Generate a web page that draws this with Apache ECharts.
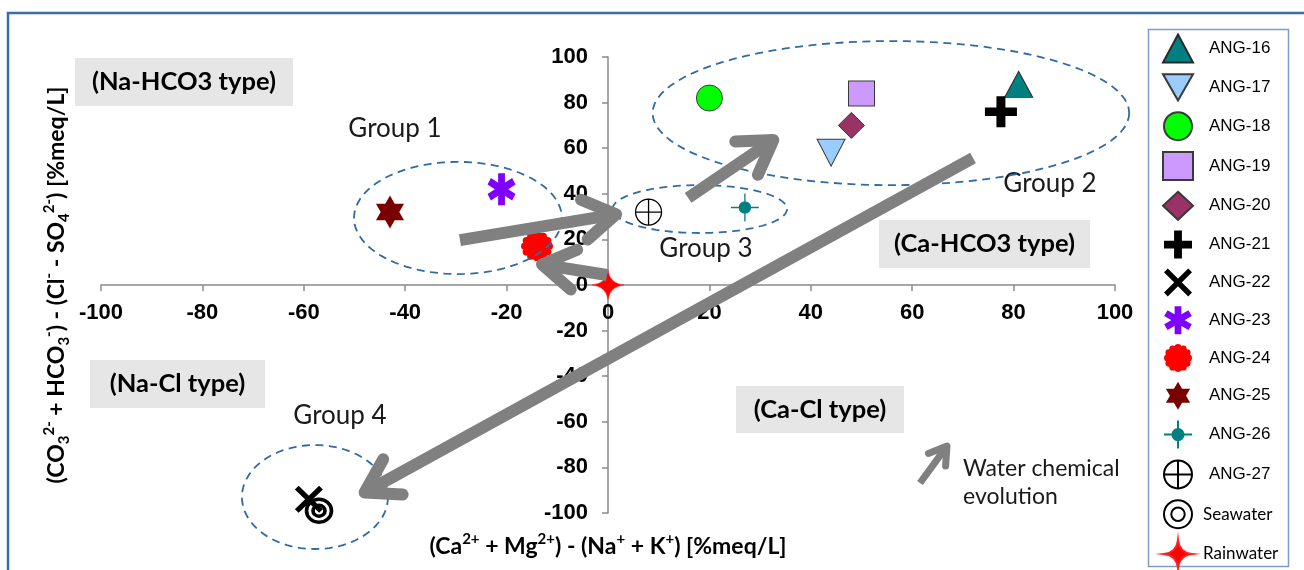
<!DOCTYPE html>
<html>
<head>
<meta charset="utf-8">
<script src="https://cdn.jsdelivr.net/npm/echarts@6/dist/echarts.min.js"></script>
<style>
  html, body { margin: 0; padding: 0; background: #ffffff; }
  #chart { width: 1304px; height: 570px; }
</style>
</head>
<body>
<div id="chart"></div>
<script>
// Chadha-type plot: (Ca + Mg) - (Na + K) versus (CO3 + HCO3) - (Cl - SO4), both in %meq/L
const sampleNames = ['ANG-16', 'ANG-17', 'ANG-18', 'ANG-19', 'ANG-20', 'ANG-21', 'ANG-22',
  'ANG-23', 'ANG-24', 'ANG-25', 'ANG-26', 'ANG-27', 'Seawater', 'Rainwater'];
const xValues = [81, 44, 20, 50, 48, 77.5, -59, -21, -14, -43, 27, 8, -57, 0];
const yValues = [88, 58, 82, 84, 70, 76, -94, 42, 17, 32, 34, 32, -99, 0];

const axisMin = -100;
const axisMax = 100;
const axisStep = 20;

// Sample groups outlined by dashed ellipses: [centre x, centre y, radius x, radius y] in axis units
const groupEllipses = [
  [-29.6, 29.4, 20.5, 24.6],
  [55.8, 75.4, 47.0, 31.6],
  [18.1, 33.3, 17.2, 10.5],
  [-57.8, -93.0, 14.4, 22.8]
];
const groupLabels = ['Group 1', 'Group 2', 'Group 3', 'Group 4'];

// Evolution arrows: [from x, from y, to x, to y] in axis units
const evolutionArrows = [
  [-29.2, 19.7, 1.6, 31.0],
  [-0.2, 4.4, -13.0, 9.0],
  [15.8, 38.2, 32.6, 63.6],
  [72.0, 55.7, -48.0, -91.0]
];

const quadrantLabels = ['(Na-HCO3 type)', '(Na-Cl type)', '(Ca-HCO3 type)', '(Ca-Cl type)'];

// plot area in pixels
const GRID = { left: 101, top: 57, width: 1014, height: 456 };
// axes cross at the origin
const xAxisOffset = -GRID.height * (0 - axisMin) / (axisMax - axisMin);
const yAxisOffset = -GRID.width * (0 - axisMin) / (axisMax - axisMin);

// ---- marker shapes ----
function circlePath(cx, cy, r) {
  return 'M' + (cx + r) + ',' + cy + ' A' + r + ',' + r + ' 0 1 1 ' + (cx - r) + ',' + cy +
    ' A' + r + ',' + r + ' 0 1 1 ' + (cx + r) + ',' + cy + ' Z ';
}
const flowerPath = (function () {
  let d = circlePath(50, 50, 38);
  const n = 12, R = 37, r = 12;
  for (let i = 0; i < n; i++) {
    const a = i * 2 * Math.PI / n;
    d += circlePath(+(50 + R * Math.cos(a)).toFixed(2), +(50 + R * Math.sin(a)).toFixed(2), r);
  }
  return 'path://' + d;
})();
// six-armed asterisk made of three bars
const asteriskPath = (function () {
  const w = 12, L = 50;
  let d = '';
  [0, 60, -60].forEach(function (deg) {
    const a = deg * Math.PI / 180;
    const ux = Math.sin(a), uy = Math.cos(a);
    const px = -uy, py = ux;
    const pts = [
      [50 - L * ux - w * px, 50 - L * uy - w * py],
      [50 - L * ux + w * px, 50 - L * uy + w * py],
      [50 + L * ux + w * px, 50 + L * uy + w * py],
      [50 + L * ux - w * px, 50 + L * uy - w * py]
    ];
    d += 'M' + pts.map(function (p) { return p[0].toFixed(2) + ',' + p[1].toFixed(2); }).join(' L') + ' Z ';
  });
  return 'path://' + d;
})();
const SHAPES = {
  downTriangle: 'path://M0,0 L100,0 L50,87 Z',
  plus: 'path://M36,0 L64,0 L64,36 L100,36 L100,64 L64,64 L64,100 L36,100 L36,64 L0,64 L0,36 L36,36 Z',
  cross: 'path://M7.8,-7.8 L107.8,92.2 L92.2,107.8 L-7.8,7.8 Z M107.8,7.8 L7.8,107.8 L-7.8,92.2 L92.2,-7.8 Z',
  asterisk: asteriskPath,
  flower: flowerPath,
  hexagram: 'path://M50,0 L93.3,75 L6.7,75 Z M50,100 L6.7,25 L93.3,25 Z',
  crosshairDot: 'path://M0,50 L100,50 M50,0 L50,100 M' + circlePath(50, 50, 20).slice(1),
  circlePlus: 'path://M50,0 L50,100 M0,50 L100,50 M' + circlePath(50, 50, 50).slice(1),
  rings: 'path://' + circlePath(50, 50, 50) + circlePath(50, 50, 24),
  sparkle: 'path://M50,0 Q55,45 100,50 Q55,55 50,100 Q45,55 0,50 Q45,45 50,0 Z'
};

const markerStyle = {
  'ANG-16': { symbol: 'triangle', size: [28, 26], style: { color: '#008080', borderColor: '#2a2a2a', borderWidth: 1 } },
  'ANG-17': { symbol: SHAPES.downTriangle, size: [28, 27], style: { color: '#99ccff', borderColor: '#3a3a3a', borderWidth: 1 } },
  'ANG-18': { symbol: 'circle', size: 26, style: { color: '#00ff00', borderColor: '#3a3a3a', borderWidth: 1 } },
  'ANG-19': { symbol: 'rect', size: [26, 25], style: { color: '#cc99ff', borderColor: '#3a3a3a', borderWidth: 1 } },
  'ANG-20': { symbol: 'diamond', size: [26, 26], style: { color: '#993366', borderColor: '#3a3a3a', borderWidth: 1 } },
  'ANG-21': { symbol: SHAPES.plus, size: [32, 31], style: { color: '#000000' } },
  'ANG-22': { symbol: SHAPES.cross, size: [28, 27], style: { color: '#000000' } },
  'ANG-23': { symbol: SHAPES.asterisk, size: [28, 32], style: { color: '#8000ff' } },
  'ANG-24': { symbol: SHAPES.flower, size: [32, 30], style: { color: '#ff0000' } },
  'ANG-25': { symbol: SHAPES.hexagram, size: [28, 33], style: { color: '#7a0000' } },
  'ANG-26': { symbol: SHAPES.crosshairDot, size: [28, 28], style: { color: '#008080', borderColor: '#008080', borderWidth: 1.3 } },
  'ANG-27': { symbol: SHAPES.circlePlus, size: [26, 26], style: { color: 'rgba(255,255,255,0)', borderColor: '#000000', borderWidth: 1.3 } },
  'Seawater': { symbol: SHAPES.rings, size: [25, 23], style: { color: 'rgba(255,255,255,0)', borderColor: '#000000', borderWidth: 3.5 } },
  'Rainwater': { symbol: SHAPES.sparkle, size: [32, 30], style: { color: '#ff0000', borderColor: '#ff2020', borderWidth: 0.5 } }
};

const ARROW_GREY = '#808080';
const DASH_BLUE = '#2f6ba5';

// shaft plus open chevron head, in pixels
function arrowShapes(p1, p2, width, armLen) {
  const dx = p2[0] - p1[0], dy = p2[1] - p1[1];
  const len = Math.sqrt(dx * dx + dy * dy);
  const ux = dx / len, uy = dy / len;
  const ang = 32 * Math.PI / 180;
  const arm = function (s) {
    const c = Math.cos(s * ang), sn = Math.sin(s * ang);
    const bx = -ux, by = -uy;
    return [p2[0] + armLen * (bx * c - by * sn), p2[1] + armLen * (bx * sn + by * c)];
  };
  return [
    { type: 'line', shape: { x1: p1[0], y1: p1[1], x2: p2[0] - ux * 2, y2: p2[1] - uy * 2 },
      style: { stroke: ARROW_GREY, lineWidth: width, lineCap: 'butt' } },
    { type: 'polyline', shape: { points: [arm(1), p2, arm(-1)] },
      style: { stroke: ARROW_GREY, fill: null, lineWidth: width, lineCap: 'round', lineJoin: 'round' } }
  ];
}

const chart = echarts.init(document.getElementById('chart'), null, { renderer: 'canvas' });

const scatterSeries = sampleNames.map(function (name, i) {
  const m = markerStyle[name];
  return {
    name: name,
    type: 'scatter',
    z: 2,
    symbol: m.symbol,
    symbolSize: m.size,
    itemStyle: Object.assign({ opacity: 1 }, m.style),
    emphasis: { disabled: true },
    data: [[xValues[i], yValues[i]]]
  };
});

const ellipseSeries = {
  type: 'custom',
  name: 'groups',
  z: 3,
  silent: true,
  data: groupEllipses,
  renderItem: function (params, api) {
    const c = api.coord([api.value(0), api.value(1)]);
    const s = api.size([api.value(2), api.value(3)]);
    const pts = [];
    for (let k = 0; k <= 96; k++) {
      const t = k * 2 * Math.PI / 96;
      pts.push([c[0] + s[0] * Math.cos(t), c[1] + s[1] * Math.sin(t)]);
    }
    return { type: 'polygon', shape: { points: pts },
      style: { fill: null, stroke: DASH_BLUE, lineWidth: 1.8, lineDash: [8, 5.5] } };
  }
};

const arrowSeries = {
  type: 'custom',
  name: 'evolution',
  z: 4,
  silent: true,
  data: evolutionArrows,
  renderItem: function (params, api) {
    const p1 = api.coord([api.value(0), api.value(1)]);
    const p2 = api.coord([api.value(2), api.value(3)]);
    return { type: 'group', children: arrowShapes(p1, p2, 12, 38) };
  }
};

const calibriLike = 'Lato';
const boldLabelFont = 'bold 25.5px ' + calibriLike;

function quadrantBox(label, x, y, w, h) {
  return [
    { type: 'rect', shape: { x: x, y: y, width: w, height: h }, style: { fill: '#e6e6e6' }, z: 1 },
    { type: 'text', x: x + w / 2, y: y + h / 2, z: 2,
      style: { text: label, font: boldLabelFont, fill: '#000', textAlign: 'center', textVerticalAlign: 'middle' } }
  ];
}
function plainText(label, x, y, size, align) {
  return { type: 'text', x: x, y: y, z: 2,
    style: { text: label, font: size + 'px ' + calibriLike, fill: '#1a1a1a', textAlign: align || 'center', textVerticalAlign: 'middle' } };
}

const keyArrow = arrowShapes([920, 483], [947, 446], 7, 20).map(function (el) {
  el.z = 3; return el;
});

const supRich = {
  sup: { fontSize: 15, fontWeight: 'bold', fontFamily: calibriLike, verticalAlign: 'top', lineHeight: 15 },
  sub: { fontSize: 15, fontWeight: 'bold', fontFamily: calibriLike, verticalAlign: 'bottom', lineHeight: 15 }
};
const axisNameStyle = { color: '#000', fontFamily: calibriLike, fontWeight: 'bold', fontSize: 23, lineHeight: 30, rich: supRich };

const axisLineStyle = { color: '#8a8a8a', width: 1.5 };
const tickFont = { color: '#000', fontFamily: 'Liberation Sans', fontWeight: 'bold', fontSize: 22 };

chart.setOption({
  animation: false,
  backgroundColor: '#ffffff',
  grid: { left: GRID.left, top: GRID.top, width: GRID.width, height: GRID.height, containLabel: false, outerBoundsMode: 'none' },
  xAxis: {
    type: 'value', min: axisMin, max: axisMax, interval: axisStep,
    position: 'bottom',
    offset: xAxisOffset,
    splitLine: { show: false },
    axisLine: { onZero: false, lineStyle: axisLineStyle },
    axisTick: { length: 6, lineStyle: axisLineStyle },
    axisLabel: Object.assign({ margin: 17 }, tickFont),
    name: '(Ca{sup|2+} + Mg{sup|2+}) - (Na{sup|+} + K{sup|+}) [%meq/L]',
    nameLocation: 'middle',
    nameGap: 247,
    nameTextStyle: axisNameStyle
  },
  yAxis: {
    type: 'value', min: axisMin, max: axisMax, interval: axisStep,
    position: 'left',
    offset: yAxisOffset,
    splitLine: { show: false },
    axisLine: { onZero: false, lineStyle: axisLineStyle },
    axisTick: { length: 6, lineStyle: axisLineStyle },
    axisLabel: Object.assign({ margin: 20 }, tickFont),
    name: '(CO{sub|3}{sup|2-} + HCO{sub|3}{sup|-}) - (Cl{sup|-} - SO{sub|4}{sup|2-}) [%meq/L]',
    nameLocation: 'middle',
    nameRotate: 90,
    nameGap: 536,
    nameTextStyle: axisNameStyle
  },
  legend: {
    orient: 'vertical',
    left: 1162,
    top: 33.5,
    height: 560,
    padding: 0,
    itemWidth: 30,
    itemHeight: 28,
    itemGap: 9.8,
    selectedMode: false,
    data: sampleNames,
    formatter: function (name) {
      return name.indexOf('ANG') === 0 ? '{ang|' + name + '}' : '{cal|' + name + '}';
    },
    textStyle: {
      color: '#000',
      rich: {
        ang: { fontFamily: 'Liberation Sans', fontSize: 17, color: '#000', padding: [0, 0, 0, 11] },
        cal: { fontFamily: calibriLike, fontSize: 17, color: '#000', padding: [0, 0, 0, 5] }
      }
    }
  },
  graphic: {
    elements: [
      { type: 'rect', shape: { x: 8, y: 13, width: 1310, height: 580 }, style: { fill: null, stroke: '#3a6ea8', lineWidth: 2.5 }, z: 0, silent: true },
      { type: 'rect', shape: { x: 1148.5, y: 29.5, width: 140, height: 537 }, style: { fill: null, stroke: '#7e9cc8', lineWidth: 1.5 }, z: 0, silent: true }
    ]
      .concat(quadrantBox(quadrantLabels[0], 75, 58, 218, 48))
      .concat(quadrantBox(quadrantLabels[1], 90, 360, 175, 48))
      .concat(quadrantBox(quadrantLabels[2], 879, 220, 211, 48))
      .concat(quadrantBox(quadrantLabels[3], 736, 386, 168, 47))
      .concat([
        plainText(groupLabels[0], 395, 129, 26),
        plainText(groupLabels[1], 1050, 184, 26),
        plainText(groupLabels[2], 706, 249, 26),
        plainText(groupLabels[3], 340, 416, 26),
        plainText('Water chemical', 963, 469, 23, 'left'),
        plainText('evolution', 963, 497, 23, 'left')
      ])
      .concat(keyArrow)
  },
  series: scatterSeries.concat([ellipseSeries, arrowSeries])
});
</script>
</body>
</html>
